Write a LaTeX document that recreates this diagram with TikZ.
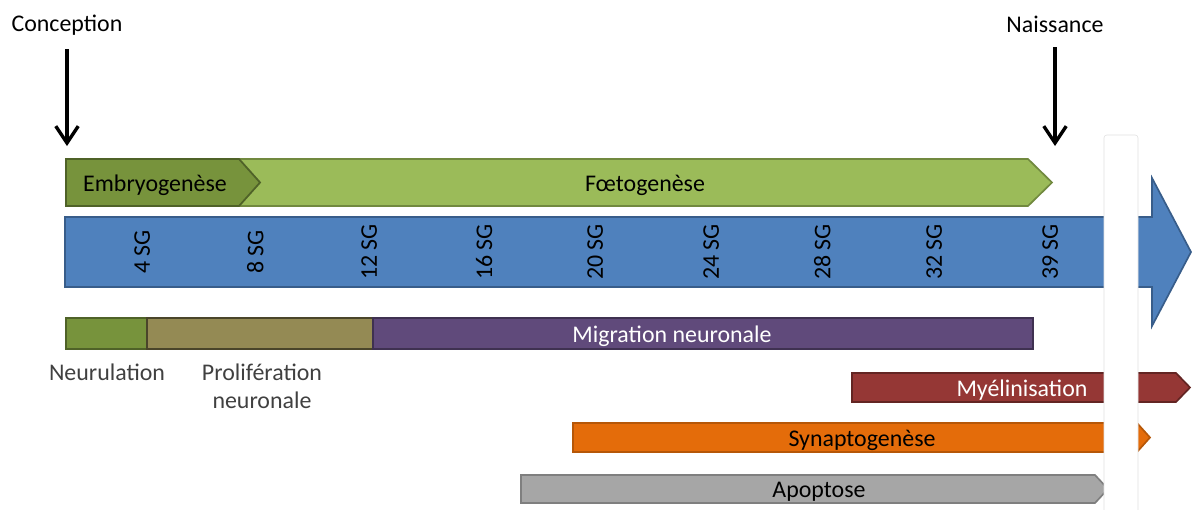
\documentclass[tikz,border=0pt]{standalone}
\usepackage{fontspec}
\setmainfont{Carlito}
\usepackage{tikz}
\usetikzlibrary{arrows.meta}
\definecolor{embryo}{HTML}{77933C}
\definecolor{embryoline}{HTML}{4F6228}
\definecolor{foeto}{HTML}{9BBB59}
\definecolor{foetoline}{HTML}{71893F}
\definecolor{axe}{HTML}{4F81BD}
\definecolor{axeline}{HTML}{385D8A}
\definecolor{prolif}{HTML}{948A54}
\definecolor{prolifline}{HTML}{4A452A}
\definecolor{migr}{HTML}{604A7B}
\definecolor{migrline}{HTML}{3F3151}
\definecolor{myel}{HTML}{953735}
\definecolor{myelline}{HTML}{632523}
\definecolor{synap}{HTML}{E46C0A}
\definecolor{synapline}{HTML}{B65708}
\definecolor{apop}{HTML}{A6A6A6}
\definecolor{apopline}{HTML}{7F7F7F}
\tikzstyle{label} = [font=\fontsize{17}{20.5}\selectfont, inner sep=0pt, text=black, yshift=-2pt]
\tikzstyle{legend} = [label, text=black!75, align=center]
\tikzstyle{band} = [line width=1.2pt, line join=miter]
\tikzstyle{arrow} = [line width=2.2pt, -{Straight Barb[length=12pt,width=16pt,line width=2.4pt]}]

\begin{document}
\begin{tikzpicture}[x=0.025cm, y=-0.025cm]

  \useasboundingbox (0,0) rectangle (1192,509);

  % periods
  \draw [band, fill=foeto, draw=foetoline] (239,159) -- (1028,159) -- (1052,182.5) -- (1028,206) -- (239,206) -- (260,182.5) -- cycle;
  \draw [band, fill=embryo, draw=embryoline] (66,159) -- (239,159) -- (260,182.5) -- (239,206) -- (66,206) -- cycle;
  \node (embryo) [label] at (155,182.5) {Embryogenèse};
  \node (foeto) [label] at (645,182.5) {Fœtogenèse};

  % time axis
  \draw [band, fill=axe, draw=axeline] (65,217) -- (1152,217) -- (1152,178) -- (1191,252) -- (1152,326) -- (1152,287) -- (65,287) -- cycle;
  \foreach \x/\w in {145/4, 258/8, 372/12, 487/16, 598/20, 714/24, 825/28, 937/32, 1053/39}
    \node (sg\w) [label, rotate=90, xshift=2pt, yshift=2pt] at (\x,252) {\w~SG};

  % early stages
  \draw [band, fill=embryo, draw=embryoline] (66,318) rectangle (147,349);
  \draw [band, fill=prolif, draw=prolifline] (147,318) rectangle (373,349);
  \draw [band, fill=migr, draw=migrline] (373,318) rectangle (1033,349);
  \node (migration) [label, text=white] at (672,333.5) {Migration neuronale};
  \node (neurulation) [legend] at (107,369.5) {Neurulation};
  \node (proliferation) [legend] at (262,383.5) {Prolifération\\neuronale};

  % later stages
  \draw [band, fill=myel, draw=myelline] (852,373) -- (1176,373) -- (1190,387.5) -- (1176,402) -- (852,402) -- cycle;
  \draw [band, fill=synap, draw=synapline] (573,423) -- (1137,423) -- (1150,437.5) -- (1137,452) -- (573,452) -- cycle;
  \draw [band, fill=apop, draw=apopline] (521,475) -- (1095,475) -- (1108,489) -- (1095,503) -- (521,503) -- cycle;
  \node (myelin) [label, text=white] at (1022,387.5) {Myélinisation};
  \node (synapto) [label] at (862,437.5) {Synaptogenèse};
  \node (apoptose) [label] at (819,489) {Apoptose};

  % birth gap
  \draw [fill=white, draw=black!12, rounded corners=2pt] (1104,135) rectangle (1138,515);

  % events
  \node (conception) [label] at (67,22) {Conception};
  \node (naissance) [label] at (1055,22) {Naissance};
  \coordinate (conceptionend) at (67,146);
  \coordinate (naissanceend) at (1055,146);
  \draw [arrow] (conception.south) ++(0,14) -- (conceptionend);
  \draw [arrow] (naissance.south) ++(0,14) -- (naissanceend);

\end{tikzpicture}
\end{document}
